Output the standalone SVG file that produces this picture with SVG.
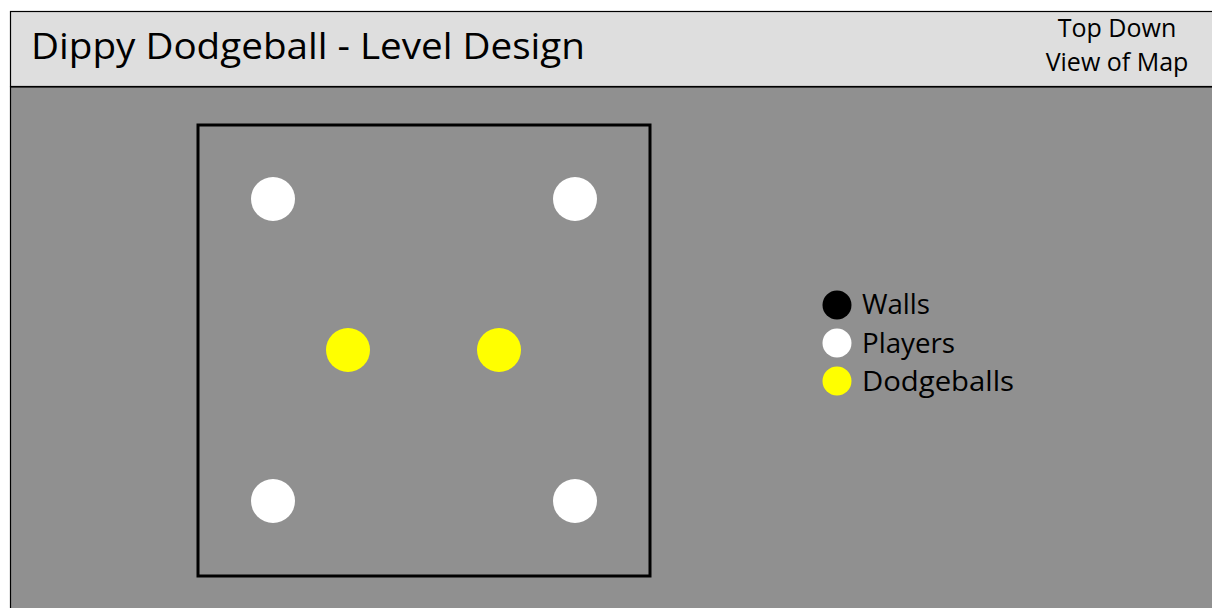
<svg xmlns="http://www.w3.org/2000/svg" width="1212" height="608" viewBox="0 0 1212 608">
<style>
text{font-family:"Open Sans","Noto Sans","Liberation Sans",sans-serif;fill:#000}
.player{fill:#fff}
.ball{fill:#ffff00}
.wall{fill:#000}
.lbl{font-size:28px}
</style>
<rect x="0" y="0" width="1212" height="608" fill="#fff"/>
<g id="header">
<rect x="10.5" y="11.5" width="1210" height="75" fill="#dedede" stroke="#000" stroke-width="1.2"/>
<text x="31" y="59" font-size="37" textLength="554" lengthAdjust="spacingAndGlyphs">Dippy Dodgeball - Level Design</text>
<text x="1117" y="37" font-size="25" text-anchor="middle">Top Down</text>
<text x="1117" y="71" font-size="25" text-anchor="middle">View of Map</text>
</g>
<g id="map-area">
<rect x="10.5" y="87" width="1210" height="530" fill="#909090" stroke="#000" stroke-width="1.2"/>
</g>
<g id="arena">
<rect x="198" y="125" width="452" height="451" fill="none" stroke="#000" stroke-width="3"/>
</g>
<g id="players">
<circle id="player-tl" class="player" cx="273" cy="199" r="22"/>
<circle id="player-tr" class="player" cx="575" cy="199" r="22"/>
<circle id="player-bl" class="player" cx="273" cy="501" r="22"/>
<circle id="player-br" class="player" cx="575" cy="501" r="22"/>
</g>
<g id="dodgeballs">
<circle id="ball-l" class="ball" cx="348" cy="350" r="22"/>
<circle id="ball-r" class="ball" cx="499" cy="350" r="22"/>
</g>
<g id="legend">
<circle class="wall" cx="837" cy="305" r="14.5"/>
<text class="lbl" x="862" y="314" textLength="68" lengthAdjust="spacingAndGlyphs">Walls</text>
<circle class="player" cx="837" cy="343" r="14.5"/>
<text class="lbl" x="862" y="353" textLength="93" lengthAdjust="spacingAndGlyphs">Players</text>
<circle class="ball" cx="837" cy="381" r="14.5"/>
<text class="lbl" x="862" y="391" textLength="152" lengthAdjust="spacingAndGlyphs">Dodgeballs</text>
</g>
<g id="connectors"/>
</svg>
